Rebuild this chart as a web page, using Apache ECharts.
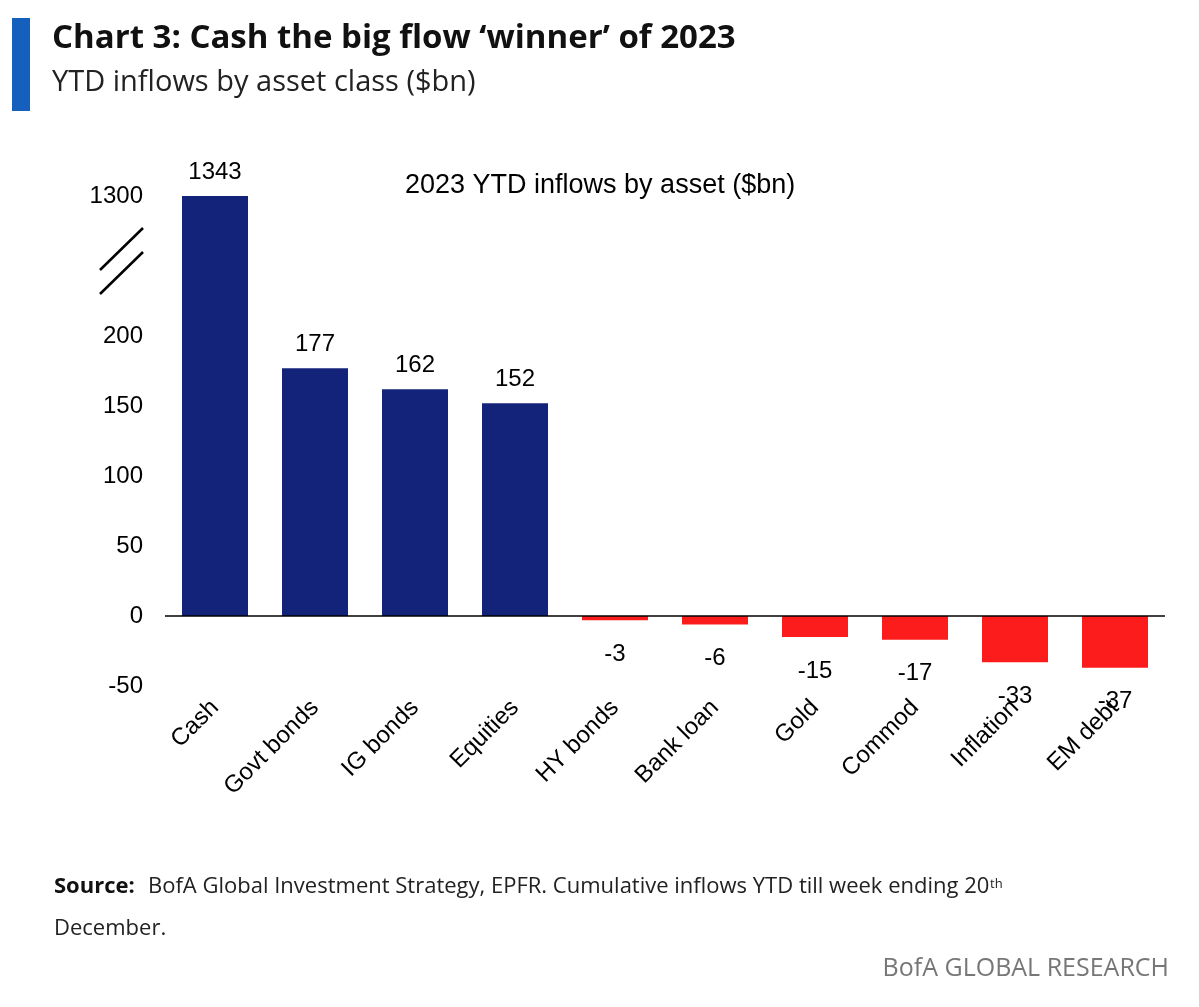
<!DOCTYPE html>
<html><head><meta charset="utf-8">
<script src="https://cdn.jsdelivr.net/npm/echarts@6/dist/echarts.min.js"></script>
<style>html,body{margin:0;background:#fff}#c{width:1199px;height:1007px}</style>
</head><body><div id="c"></div>
<script>
const categories = ["Cash","Govt bonds","IG bonds","Equities","HY bonds","Bank loan","Gold","Commod","Inflation","EM debt"];
const values = [1343,177,162,152,-3,-6,-15,-17,-33,-37];
const yTickLabels = {"-50":"-50","0":"0","50":"50","100":"100","150":"150","200":"200","250":"","300":"1300"};
const breakAt = 300; // axis position where the broken scale shows 1300
const chart = echarts.init(document.getElementById('c'));
const F = 'Liberation Sans, Arial, sans-serif';
chart.setOption({
  animation:false,
  grid:{left:165,right:34,top:196,bottom:321},
  xAxis:{type:'category',data:categories,axisLine:{show:false},axisTick:{show:false},
    axisLabel:{rotate:45,fontSize:24,color:'#000',fontFamily:F,margin:18}},
  yAxis:{type:'value',min:-50,max:300,interval:50,splitLine:{show:false},axisLine:{show:false},
    axisLabel:{fontSize:24,color:'#000',fontFamily:F,margin:22,formatter:v=>yTickLabels[String(v)]}},
  series:[{type:'bar',barWidth:66,
    data:values.map(v=>({value:Math.min(v,breakAt),
      itemStyle:{color:v>=0?'#13237a':'#fd1c1c'},
      label:{show:true,position:v>=0?'top':'bottom',distance:v>=0?12:22,fontSize:24,color:'#000',fontFamily:F,formatter:()=>String(v)}})),
    markLine:{silent:true,symbol:'none',label:{show:false},lineStyle:{color:'#000',width:1.5,type:'solid'},data:[{yAxis:0}]}
  }],
  graphic:[
    {type:'rect',shape:{x:12,y:18,width:18,height:93},style:{fill:'#1560bd'}},
    {type:'text',left:52,top:22,style:{text:'Chart 3: Cash the big flow ‘winner’ of 2023',font:'bold 33px "Open Sans", sans-serif',fill:'#111'}},
    {type:'text',left:52,top:68,style:{text:'YTD inflows by asset class ($bn)',font:'29px "Open Sans", sans-serif',fill:'#222'}},
    {type:'text',left:405,top:172,style:{text:'2023 YTD inflows by asset ($bn)',font:'27px '+F,fill:'#000'}},
    {type:'line',shape:{x1:100,y1:270,x2:143,y2:228},style:{stroke:'#000',lineWidth:2.5}},
    {type:'line',shape:{x1:100,y1:294,x2:143,y2:252},style:{stroke:'#000',lineWidth:2.5}},
    {type:'text',left:54,top:876,style:{text:'Source:',font:'bold 22px "Open Sans", sans-serif',fill:'#111'}},
    {type:'text',left:148,top:876,style:{text:'BofA Global Investment Strategy, EPFR. Cumulative inflows YTD till week ending 20',font:'22px "Open Sans", sans-serif',fill:'#222'}},
    {type:'text',left:990,top:878,style:{text:'th',font:'13px "Open Sans", sans-serif',fill:'#222'}},
    {type:'text',left:54,top:918,style:{text:'December.',font:'22px "Open Sans", sans-serif',fill:'#222'}},
    {type:'text',right:30,top:956,style:{text:'BofA GLOBAL RESEARCH',font:'25px "Open Sans", sans-serif',fill:'#777'}}
  ]
});
</script></body></html>
